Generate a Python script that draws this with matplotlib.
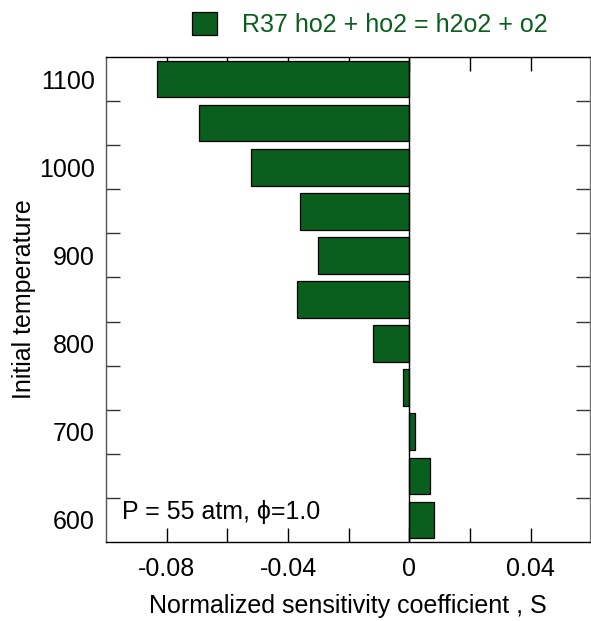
import numpy as np
import matplotlib.pyplot as plt
from matplotlib.ticker import FixedLocator

plt.rcParams['font.family'] = ['Liberation Sans', 'DejaVu Sans']

# Sensitivity of R37 at each initial temperature
temperatures = [600, 650, 700, 750, 800, 850, 900, 950, 1000, 1050, 1100]
sensitivity = [0.0081, 0.0069, 0.0020, -0.0021, -0.0121, -0.0372,
               -0.0302, -0.0362, -0.0523, -0.0692, -0.0833]
reaction = "R37 ho2 + ho2 = h2o2 + o2"
conditions = "P = 55 atm, \u03d5=1.0"

ylabels = [600, 700, 800, 900, 1000, 1100]
xlabels = [-0.08, -0.04, 0, 0.04]

bar_color = "#0a5e1e"
fs = 18

fig = plt.figure(figsize=(5.91, 6.21), dpi=100)
ax = fig.add_axes([0.1794, 0.1272, 0.8186, 0.781])

ax.barh(temperatures, sensitivity, height=41.5, color=bar_color,
        edgecolor="black", linewidth=0.9, label=reaction, zorder=2)
ax.axvline(0, color="black", linewidth=1.0, zorder=3)

ax.set_xlim(-0.1, 0.0595)
ax.set_ylim(575, 1125)

# labelled ticks carry no marks; marks sit between the categories
ax.set_yticks(ylabels)
ax.set_yticklabels([str(v) for v in ylabels])
ax.yaxis.set_minor_locator(FixedLocator(np.arange(625, 1100, 50)))
ax.set_xticks(xlabels)
ax.set_xticklabels(["-0.08", "-0.04", "0", "0.04"])
ax.xaxis.set_minor_locator(FixedLocator([-0.06, -0.02, 0.02]))

ax.tick_params(axis="y", which="major", length=0, labelsize=fs, pad=8)
ax.tick_params(axis="y", which="minor", length=10, direction="in",
               left=True, right=True, width=1.0, color="#333333")
ax.tick_params(axis="x", which="both", length=10, direction="in",
               top=True, bottom=True, width=1.0, labelsize=fs, pad=11)

for side in ["left", "right", "top", "bottom"]:
    ax.spines[side].set_linewidth(1.0)
ax.spines["left"].set_color("#555555")
ax.spines["right"].set_color("#777777")

ax.set_xlabel("Normalized sensitivity coefficient , S", fontsize=fs, labelpad=9)
ax.set_ylabel("Initial temperature", fontsize=fs, labelpad=2)

ax.text(0.033, 0.062, conditions, transform=ax.transAxes, fontsize=fs,
        ha="left", va="center")

ax.legend(loc="lower center", bbox_to_anchor=(0.545, 0.995), frameon=False,
          fontsize=fs, labelcolor=bar_color, handlelength=1.0,
          handleheight=1.0, handletextpad=1.0)

fig.savefig("out.png", dpi=100)
